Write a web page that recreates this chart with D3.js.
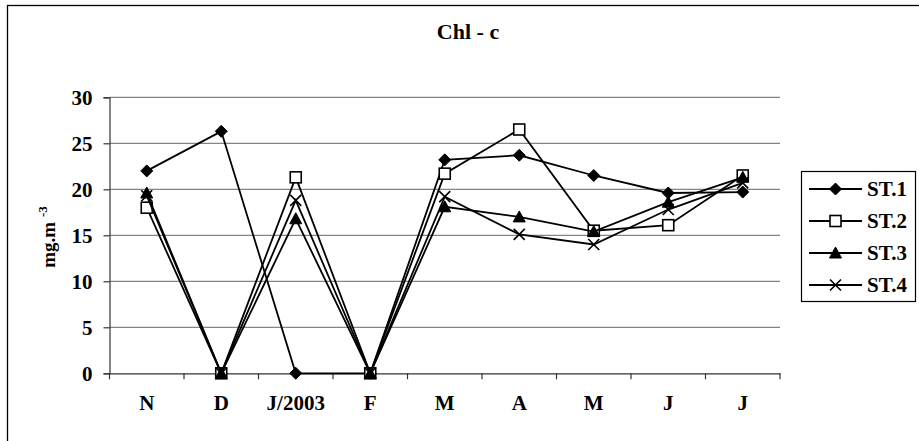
<!DOCTYPE html>
<html>
<head>
<meta charset="utf-8">
<script src="https://cdn.jsdelivr.net/npm/d3@7"></script>
<style>
  html, body { margin: 0; padding: 0; background: #fff; }
  svg { display: block; }
  text { font-family: "Liberation Serif", "Times New Roman", serif; font-weight: bold; fill: #000; }
</style>
</head>
<body>
<svg id="chart" width="919" height="441"></svg>
<script>
// ---- data ----
const months = ["N", "D", "J/2003", "F", "M", "A", "M", "J", "J"];
const seriesNames = ["ST.1", "ST.2", "ST.3", "ST.4"];
const st1 = [22.0, 26.3, 0, 0, 23.2, 23.7, 21.5, 19.6, 19.7];
const st2 = [18.0, 0, 21.3, 0, 21.7, 26.5, 15.5, 16.1, 21.5];
const st3 = [19.6, 0, 16.8, 0, 18.1, 17.0, 15.4, 18.6, 21.3];
const st4 = [19.3, 0, 18.8, 0, 19.2, 15.1, 14.0, 17.8, 20.7];
const yTicks = [0, 5, 10, 15, 20, 25, 30];
const chartTitle = "Chl - c";

const seriesValues = [st1, st2, st3, st4];
const markerKinds = ["diamond", "square", "triangle", "cross"];

const svg = d3.select("#chart");

// outer frame (only top and left edges visible)
svg.append("rect")
  .attr("x", 7.5).attr("y", 5.5)
  .attr("width", 1000).attr("height", 1000)
  .attr("fill", "none").attr("stroke", "#000").attr("stroke-width", 1.3);

const plotL = 109.5, plotR = 780, plotT = 97.3, plotB = 373.3;

const x = d3.scaleBand().domain(d3.range(months.length)).range([plotL, plotR]).paddingInner(0).paddingOuter(0);
const y = d3.scaleLinear().domain([0, 30]).range([plotB, plotT]);
const cx = i => x(i) + x.bandwidth() / 2;

// gridlines
svg.append("g")
  .selectAll("line")
  .data(yTicks.filter(d => d > 0))
  .join("line")
  .attr("x1", plotL).attr("x2", plotR)
  .attr("y1", d => y(d)).attr("y2", d => y(d))
  .attr("stroke", "#858585").attr("stroke-width", 1.2);

// y axis
const yAxis = svg.append("g")
  .attr("transform", `translate(${plotL},0)`)
  .call(d3.axisLeft(y).tickValues(yTicks).tickSize(6).tickPadding(11).tickFormat(d3.format("d")));
yAxis.select(".domain").attr("stroke", "#333").attr("stroke-width", 1.2);
yAxis.selectAll(".tick line").attr("stroke", "#333").attr("stroke-width", 1.2);
yAxis.selectAll(".tick text")
  .attr("font-size", 21).attr("font-family", "'Liberation Serif', 'Times New Roman', serif")
  .attr("font-weight", "bold").attr("fill", "#000");

// x axis
const xAxis = svg.append("g")
  .attr("transform", `translate(0,${plotB})`)
  .call(d3.axisBottom(x).tickSize(0).tickPadding(22).tickFormat(i => months[i]));
xAxis.select(".domain").attr("stroke", "#333").attr("stroke-width", 1.2);
xAxis.selectAll(".tick text")
  .attr("font-size", 21).attr("font-family", "'Liberation Serif', 'Times New Roman', serif")
  .attr("font-weight", "bold").attr("fill", "#000");
// category boundary ticks
svg.append("g")
  .selectAll("line")
  .data(d3.range(months.length + 1))
  .join("line")
  .attr("x1", i => i < months.length ? x(i) : plotR)
  .attr("x2", i => i < months.length ? x(i) : plotR)
  .attr("y1", plotB).attr("y2", plotB + 6)
  .attr("stroke", "#333").attr("stroke-width", 1.2);

// title
svg.append("text")
  .attr("x", 468).attr("y", 38.5)
  .attr("text-anchor", "middle")
  .attr("font-size", 22)
  .text(chartTitle);

// y axis title
const yt = svg.append("text")
  .attr("transform", "translate(55,237) rotate(-90)")
  .attr("text-anchor", "middle")
  .attr("font-size", 19);
yt.append("tspan").text("mg.m ");
yt.append("tspan").attr("font-size", 13).attr("dy", -8).text("-3");

// marker drawing
function drawMarker(g, kind, px, py) {
  if (kind === "diamond") {
    g.append("path")
      .attr("d", `M${px},${py - 6}L${px + 6},${py}L${px},${py + 6}L${px - 6},${py}Z`)
      .attr("fill", "#000").attr("stroke", "#000").attr("stroke-width", 1);
  } else if (kind === "square") {
    g.append("rect")
      .attr("x", px - 5.5).attr("y", py - 5.5).attr("width", 11).attr("height", 11)
      .attr("fill", "#fff").attr("stroke", "#000").attr("stroke-width", 1.6);
  } else if (kind === "triangle") {
    g.append("path")
      .attr("d", `M${px},${py - 6}L${px + 6},${py + 5}L${px - 6},${py + 5}Z`)
      .attr("fill", "#000").attr("stroke", "#000").attr("stroke-width", 1);
  } else {
    g.append("path")
      .attr("d", `M${px - 5.5},${py - 5.5}L${px + 5.5},${py + 5.5}M${px - 5.5},${py + 5.5}L${px + 5.5},${py - 5.5}`)
      .attr("fill", "none").attr("stroke", "#000").attr("stroke-width", 1.6);
  }
}

const line = d3.line().x((d, i) => cx(i)).y(d => y(d));

seriesValues.forEach((vals, s) => {
  const g = svg.append("g");
  g.append("path")
    .datum(vals)
    .attr("d", line)
    .attr("fill", "none").attr("stroke", "#000").attr("stroke-width", 1.8);
  vals.forEach((v, i) => drawMarker(g, markerKinds[s], cx(i), y(v)));
});

// legend
const lg = svg.append("g");
lg.append("rect")
  .attr("x", 801.5).attr("y", 171.5).attr("width", 114).attr("height", 130)
  .attr("fill", "#fff").attr("stroke", "#000").attr("stroke-width", 1.2);
seriesNames.forEach((name, s) => {
  const ly = 189 + 32 * s;
  lg.append("line")
    .attr("x1", 809).attr("x2", 862).attr("y1", ly).attr("y2", ly)
    .attr("stroke", "#000").attr("stroke-width", 1.8);
  drawMarker(lg, markerKinds[s], 835.5, ly);
  lg.append("text")
    .attr("x", 867).attr("y", ly + 7)
    .attr("font-size", 21)
    .text(name);
});
</script>
</body>
</html>
